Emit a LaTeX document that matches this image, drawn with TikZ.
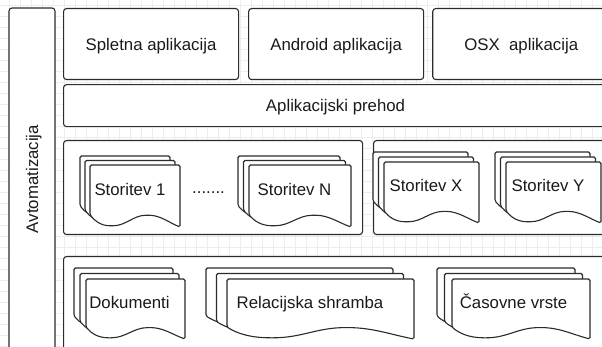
\documentclass[tikz,border=0pt]{standalone}
\usepackage{fontspec}
\setmainfont{Liberation Sans}
\usepackage{tikz}
\usetikzlibrary{positioning}
\definecolor{LayerLine}{HTML}{2B2B2B}
\definecolor{LayerText}{HTML}{1A1A1A}
\definecolor{GridLine}{HTML}{EDEDED}
\newcommand{\diagfont}{\fontsize{16.8}{20}\selectfont}
\tikzset{
  layer/.style={draw=LayerLine, line width=1.1pt, rounded corners=3pt, fill=white,
                inner sep=0pt, anchor=north west, font=\diagfont, text=LayerText,
                text height=12pt, text depth=0pt},
  page/.style={draw=LayerLine, line width=1.1pt, rounded corners=1.5pt, fill=white},
  pagetext/.style={font=\diagfont, text=LayerText, inner sep=0pt,
                   text height=12pt, text depth=0pt},
  gridline/.style={draw=GridLine, line width=0.5pt}
}
% one page: x, y, width, height
\newcommand{\docpage}[4]{%
  \begin{scope}[shift={({#1},{#2})}, xscale=#3, yscale=#4]
    \draw[page] (0,0) -- (1,0) -- (1,1)
      .. controls (0.88,0.93) and (0.78,0.81) .. (0.64,0.81)
      .. controls (0.48,0.81) and (0.40,0.98) .. (0.24,0.98)
      .. controls (0.12,0.98) and (0.05,0.90) .. (0,0.80) -- cycle;
  \end{scope}}
% stack of three pages: name, x, y, width, height, dx, dy, label
\newcommand{\docstack}[8]{%
  \foreach \pg in {0,1,2}{\docpage{#2+\pg*#6}{#3+\pg*#7}{#4}{#5}}
  \node[pagetext] (#1) at ({#2+(2*#6+#4)/2},{#3+(2*#7+#5)/2-1.5}) {#8};}

\begin{document}
\begin{tikzpicture}[x=1pt, y=-1pt]
  \useasboundingbox (0,0) rectangle (602,347);
  \clip (0,0) rectangle (602,347);
  % background grid
  \foreach \gx in {9,20,...,602} \draw[gridline] (\gx,0) -- (\gx,347);
  \foreach \gy in {5,16,...,347} \draw[gridline] (0,\gy) -- (602,\gy);
  % side bar
  \node[layer, anchor=center, rotate=90, minimum width=342pt, minimum height=46pt] (auto) at (32,179) {Avtomatizacija};
  % clients
  \node[layer, minimum width=175pt, minimum height=71pt] (web) at (63,8) {Spletna aplikacija};
  \node[layer, minimum width=175pt, minimum height=71pt, right=9pt of web] (android) {Android aplikacija};
  \node[layer, minimum width=177pt, minimum height=71pt, right=8pt of android] (osx) {OSX\ \ aplikacija};
  % gateway
  \node[layer, minimum width=544pt, minimum height=42pt, below=4pt of web.south west, anchor=north west] (gateway) {Aplikacijski prehod};
  % service groups and storage
  \node[layer, minimum width=299pt, minimum height=94pt] (svcleft) at (63,140) {};
  \node[layer, minimum width=240pt, minimum height=94pt] (svcright) at (373,140) {};
  \node[layer, minimum width=550pt, minimum height=110pt] (storage) at (63,256) {};
  \docstack{svc1}{80}{156}{90}{62}{5}{4.5}{Storitev 1}
  \node[font=\diagfont, text=LayerText, inner sep=0pt, anchor=base] (dots) at (208.5,194) {.......};
  \docstack{svcn}{238}{156}{102}{62}{5.5}{4.5}{Storitev N}
  \docstack{svcx}{373}{152}{95}{61}{5.5}{5}{Storitev X}
  \docstack{svcy}{495}{152}{95}{61}{5.5}{5}{Storitev Y}
  \docstack{docs}{74}{268}{99}{60}{6}{5.5}{Dokumenti}
  \docstack{rel}{206}{268}{187}{60}{10.5}{5.5}{Relacijska shramba}
  \docstack{series}{437}{268}{138}{60}{7.5}{5.5}{Časovne vrste}
\end{tikzpicture}
\end{document}
